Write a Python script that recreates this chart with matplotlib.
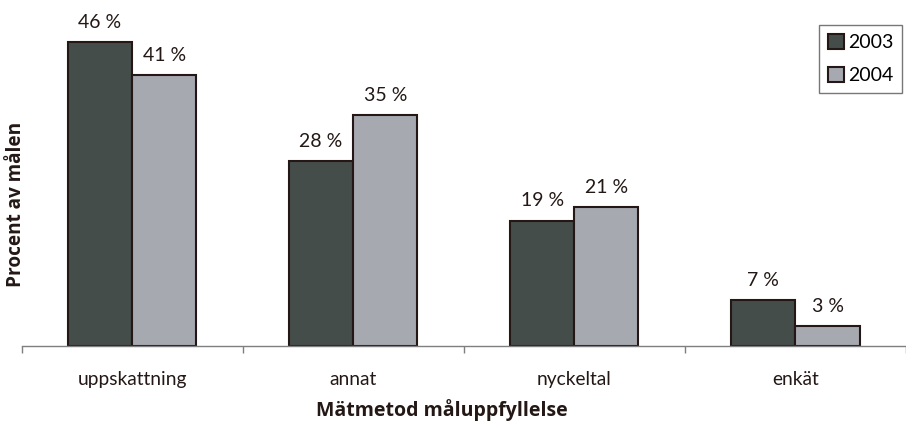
import matplotlib
matplotlib.use("Agg")
import matplotlib.pyplot as plt
import numpy as np
from matplotlib.patches import Patch

categories = ["uppskattning", "annat", "nyckeltal", "enkät"]
years = ["2003", "2004"]
values_2003 = [46, 28, 19, 7]
values_2004 = [41, 35, 21, 3]
labels_2003 = ["46 %", "28 %", "19 %", "7 %"]
labels_2004 = ["41 %", "35 %", "21 %", "3 %"]

plt.rcParams['font.family'] = ['Lato', 'DejaVu Sans']

dark = "#454d4a"
light = "#a7a9b0"
edge = "#231815"
axis_col = "#7f7f7f"
txt = "#231815"

fig = plt.figure(figsize=(9.06, 4.23), dpi=100)
W, H = 906, 423
ax = fig.add_axes([21.5 / W, (H - 346) / H, 1 - 21.5 / W, (346 - 16) / H])

x = np.arange(len(categories))
bw = 0.29
b1 = ax.bar(x - bw / 2, values_2003, bw, color=dark, edgecolor=edge, linewidth=1.5, label=years[0])
b2 = ax.bar(x + bw / 2, values_2004, bw, color=light, edgecolor=edge, linewidth=1.5, label=years[1])

for rect, lab in zip(b1, labels_2003):
    ax.annotate(lab, (rect.get_x() + rect.get_width() / 2, rect.get_height()),
                xytext=(0, 8), textcoords="offset points", ha="center", va="bottom",
                fontsize=14, color=txt)
for rect, lab in zip(b2, labels_2004):
    ax.annotate(lab, (rect.get_x() + rect.get_width() / 2, rect.get_height()),
                xytext=(0, 8), textcoords="offset points", ha="center", va="bottom",
                fontsize=14, color=txt)

ax.set_xlim(-0.5, -0.5 + (W - 21.5) / 223.0)
ax.set_ylim(0, 50)

for s in ["top", "right", "left"]:
    ax.spines[s].set_visible(False)
ax.spines["bottom"].set_color(axis_col)
ax.spines["bottom"].set_linewidth(1.0)
ax.set_yticks([])

ax.set_xticks(np.arange(len(categories) + 1) - 0.5)
ax.set_xticklabels([""] * (len(categories) + 1))
ax.tick_params(axis="x", which="major", direction="out", length=5, width=1, color=axis_col)
ax.set_xticks(x, minor=True)
ax.set_xticklabels(categories, minor=True, fontsize=13.8, color=txt)
ax.tick_params(axis="x", which="minor", length=0, pad=18)

bold_family = ['Open Sans', 'DejaVu Sans']
fig.text(16 / W, (H - 204) / H, "Procent av målen", rotation=90, ha="center", va="center",
         fontsize=13.7, fontweight="bold", color=txt, family=bold_family)
fig.text(442 / W, (H - 410) / H, "Mätmetod måluppfyllelse", ha="center", va="center",
         fontsize=14, fontweight="bold", color=txt, family=bold_family)

handles = [Patch(facecolor=dark, edgecolor=edge, linewidth=1.5, label=years[0]),
           Patch(facecolor=light, edgecolor=edge, linewidth=1.5, label=years[1])]
leg = fig.legend(handles=handles, loc="upper left", bbox_to_anchor=(819 / W, 1 - 25 / H),
                 frameon=True, fancybox=False, fontsize=14, handlelength=0.85, handleheight=0.85,
                 handletextpad=0.2, borderpad=0.45, labelspacing=0.8, borderaxespad=0)
leg.get_frame().set_edgecolor("#555555")
leg.get_frame().set_linewidth(1.0)

fig.savefig("out.png", dpi=100)
